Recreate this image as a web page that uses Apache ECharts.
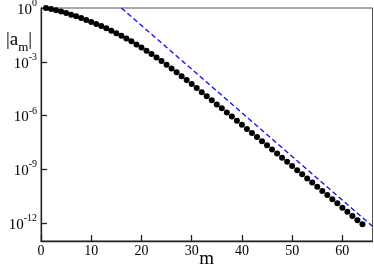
<!DOCTYPE html>
<html><head><meta charset="utf-8">
<script src="https://cdn.jsdelivr.net/npm/echarts@6/dist/echarts.min.js"></script>
<style>html,body{margin:0;padding:0;background:#fff}#c{width:374px;height:268px}</style>
</head><body><div id="c"></div>
<script>
// m index (x) values
const mValues = [1,2,3,4,5,6,7,8,9,10,11,12,13,14,15,16,17,18,19,20,21,22,23,24,25,26,27,28,29,30,31,32,
  33,34,35,36,37,38,39,40,41,42,43,44,45,46,47,48,49,50,51,52,53,54,55,56,57,58,59,60,61,62,63,64];
// log10 |a_m|
const log10AbsA = [0.00,-0.05,-0.12,-0.19,-0.28,-0.37,-0.46,-0.56,-0.67,-0.78,-0.89,-1.01,-1.13,-1.27,-1.41,-1.55,
  -1.70,-1.86,-2.03,-2.20,-2.38,-2.56,-2.76,-2.96,-3.17,-3.38,-3.59,-3.81,-4.02,-4.24,-4.47,-4.70,
  -4.92,-5.15,-5.38,-5.60,-5.83,-6.06,-6.29,-6.52,-6.75,-6.98,-7.20,-7.43,-7.66,-7.89,-8.12,-8.35,
  -8.58,-8.82,-9.05,-9.28,-9.51,-9.74,-9.97,-10.21,-10.44,-10.67,-10.90,-11.14,-11.37,-11.60,-11.84,-12.07];
// dashed asymptote endpoints
const asymM = [16, 66];
const asymLog10 = [0, -12.18];
// tick labels
const xTicks = [0,10,20,30,40,50,60];
const yTickExponents = [0,-3,-6,-9,-12];

const FONT = 'Liberation Serif';
const chart = echarts.init(document.getElementById('c'), null, {renderer:'canvas'});
chart.setOption({
  animation:false,
  backgroundColor:'#fff',
  title:{
    text:'|a{s|m}|', left:1, top:22,
    textStyle:{fontFamily:FONT, fontSize:19, fontWeight:'normal', color:'#000',
      verticalAlign:'top', lineHeight:19,
      rich:{s:{fontFamily:FONT, fontSize:13, color:'#000', verticalAlign:'bottom', lineHeight:27}}}
  },
  grid:{left:41, right:1.5, top:8, bottom:27, show:true, borderColor:'#555', borderWidth:1,
        containLabel:false, outerBoundsMode:'none'},
  xAxis:{
    type:'value', min:0, max:66,
    name:'m', nameLocation:'middle', nameGap:9, nameMoveOverlap:false,
    nameTextStyle:{fontFamily:FONT, fontSize:19, color:'#000', verticalAlign:'top'},
    axisLine:{show:true, onZero:false, lineStyle:{color:'#222', width:1.3}},
    axisTick:{show:true, inside:true, length:6, customValues:xTicks, lineStyle:{color:'#222', width:1.3}},
    axisLabel:{show:true, margin:3, customValues:xTicks, fontFamily:FONT, fontSize:14, color:'#000'},
    splitLine:{show:false}
  },
  yAxis:{
    type:'value', min:-13, max:0,
    axisLine:{show:true, onZero:false, lineStyle:{color:'#222', width:1.3}},
    axisTick:{show:true, inside:true, length:6, customValues:yTickExponents, lineStyle:{color:'#222', width:1.3}},
    axisLabel:{show:true, margin:4, customValues:yTickExponents, fontFamily:FONT, color:'#000',
      formatter:function(v){ return '{b|10}{s|' + v + '}'; },
      rich:{
        b:{fontFamily:FONT, fontSize:15, color:'#000', verticalAlign:'bottom', lineHeight:14},
        s:{fontFamily:FONT, fontSize:10, color:'#000', verticalAlign:'top', lineHeight:19}
      }},
    splitLine:{show:false}
  },
  series:[
    {
      type:'line', data:asymM.map((m,i)=>[m, asymLog10[i]]),
      showSymbol:false, symbol:'none', silent:true,
      lineStyle:{color:'#1010ff', width:1.4, type:[5,3]}
    },
    {
      type:'scatter', data:mValues.map((m,i)=>[m, log10AbsA[i]]),
      symbol:'circle', symbolSize:6,
      itemStyle:{color:'#000', opacity:1}
    }
  ]
});
</script></body></html>
